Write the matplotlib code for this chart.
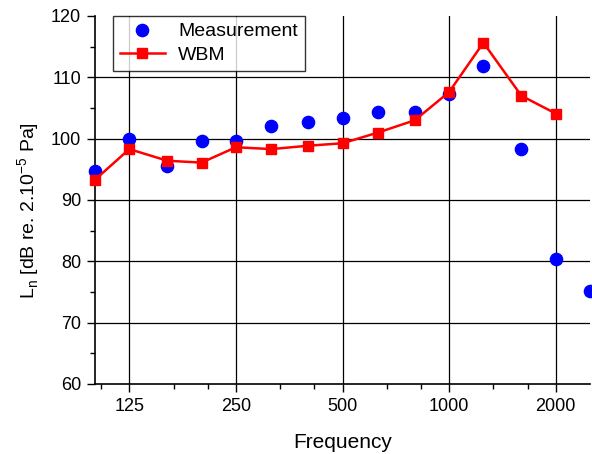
import matplotlib
matplotlib.use("Agg")
import matplotlib.pyplot as plt
import numpy as np
from matplotlib.ticker import FixedLocator, NullFormatter

plt.rcParams['font.family'] = ['Liberation Sans', 'DejaVu Sans']

freq = [100, 125, 160, 200, 250, 315, 400, 500, 630, 800, 1000, 1250, 1600, 2000, 2500]
measurement = [94.8, 100.0, 95.6, 99.7, 99.7, 102.1, 102.7, 103.3, 104.4, 104.3, 107.3, 111.9, 98.3, 80.4, 75.2]
wbm_freq = [100, 125, 160, 200, 250, 315, 400, 500, 630, 800, 1000, 1250, 1600, 2000]
wbm = [93.3, 98.3, 96.4, 96.1, 98.6, 98.3, 98.85, 99.25, 101.0, 103.0, 107.6, 115.65, 107.0, 104.1]
xticks = [125, 250, 500, 1000, 2000]
yticks = [60, 70, 80, 90, 100, 110, 120]

fig = plt.figure(figsize=(5.92, 4.54), dpi=100)
ax = fig.add_axes([95/592, 70/454, 495/592, 368/454])

ax.set_xscale('log', base=2)
ax.set_xlim(100, 2500)
ax.set_ylim(60, 120)

ax.plot(freq, measurement, 'o', color='#0000ff', markersize=8.8, label='Measurement',
        clip_on=False, zorder=3)
ax.plot(wbm_freq, wbm, '-s', color='#ff0000', markersize=7, linewidth=1.8, label='WBM',
        clip_on=False, zorder=4)

ax.xaxis.set_major_locator(FixedLocator(xticks))
ax.set_xticklabels([str(t) for t in xticks])
minor_x = []
for lo in [62.5, 125, 250, 500, 1000, 2000]:
    minor_x += [lo * 4 / 3, lo * 5 / 3]
ax.xaxis.set_minor_locator(FixedLocator(minor_x))
ax.xaxis.set_minor_formatter(NullFormatter())
ax.set_yticks(yticks)
ax.yaxis.set_minor_locator(FixedLocator([65, 75, 85, 95, 105, 115]))

ax.tick_params(axis='both', which='major', direction='out', length=6, width=1,
               labelsize=13, colors='black', pad=4)
ax.tick_params(axis='both', which='minor', direction='out', length=3.5, width=1)

for v in xticks:
    ax.axvline(v, color='black', linewidth=0.9, zorder=1)
for v in yticks[1:-1]:
    ax.axhline(v, color='black', linewidth=0.9, zorder=1)

ax.spines['top'].set_visible(False)
ax.spines['right'].set_visible(False)
ax.spines['left'].set_linewidth(1.2)
ax.spines['bottom'].set_linewidth(1.2)

ax.set_xlabel('Frequency', fontsize=15)
ax.xaxis.set_label_coords((342.5 - 95) / 495, (384 - 452) / 368)
ax.xaxis.label.set_va('bottom')
ax.set_ylabel(r'L$_\mathregular{n}$ [dB re. 2.10$^\mathregular{-5}$ Pa]', fontsize=14)
ax.yaxis.set_label_coords((42 - 95) / 495, (384 - 211) / 368)

leg = ax.legend(loc='upper left', bbox_to_anchor=(18/495, 1.0), fontsize=14,
                frameon=True, fancybox=False, edgecolor='black', borderpad=0.35,
                handlelength=2.3, handletextpad=0.7, labelspacing=0.3, borderaxespad=0)
leg.get_frame().set_linewidth(1.0)
leg.set_zorder(5)

fig.savefig('out.png', dpi=100, facecolor='white')
